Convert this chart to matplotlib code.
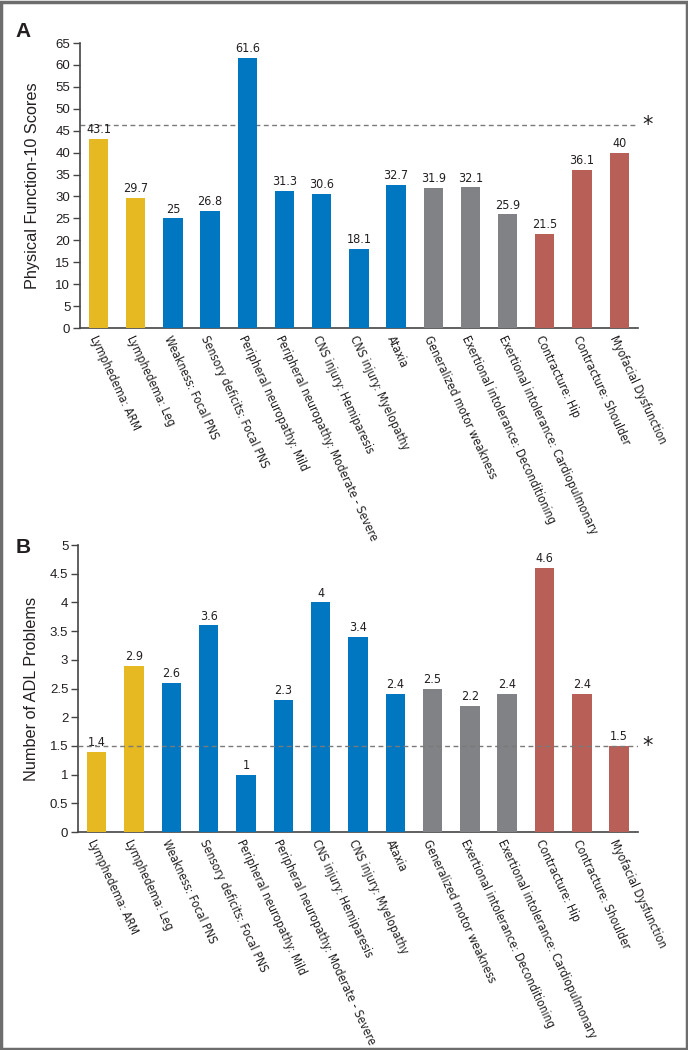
import matplotlib
matplotlib.use("Agg")
import matplotlib.pyplot as plt
from matplotlib.patches import Rectangle
from matplotlib import font_manager as fm

categories = [
    "Lymphedema: ARM", "Lymphedema: Leg", "Weakness: Focal PNS",
    "Sensory deficits: Focal PNS", "Peripheral neuropathy: Mild",
    "Peripheral neuropathy: Moderate - Severe", "CNS injury: Hemiparesis",
    "CNS injury: Myelopathy", "Ataxia", "Generalized motor weakness",
    "Exertional intolerance: Deconditioning", "Exertional intolerance: Cardiopulmonary",
    "Contracture: Hip", "Contracture: Shoulder", "Myofacial Dysfunction",
]
groups = ["lymph", "lymph", "neuro", "neuro", "neuro", "neuro", "neuro", "neuro", "neuro",
          "gen", "gen", "gen", "msk", "msk", "msk"]
pf10_scores = [43.1, 29.7, 25, 26.8, 61.6, 31.3, 30.6, 18.1, 32.7, 31.9, 32.1, 25.9, 21.5, 36.1, 40]
adl_problems = [1.4, 2.9, 2.6, 3.6, 1, 2.3, 4, 3.4, 2.4, 2.5, 2.2, 2.4, 4.6, 2.4, 1.5]
pf10_reference = 46.4
adl_reference = 1.5
pf10_ticks = list(range(0, 70, 5))
adl_ticks = [0, 0.5, 1, 1.5, 2, 2.5, 3, 3.5, 4, 4.5, 5]

group_colors = {"lymph": "#E6B822", "neuro": "#0077C0", "gen": "#818285", "msk": "#B85F57"}
colors = [group_colors[g] for g in groups]

# find a condensed / narrow font if one is installed
narrow_prop = None
for f in fm.fontManager.ttflist:
    nm = f.name.lower()
    fn = f.fname.lower()
    if ("narrow" in nm or "condensed" in nm or "narrow" in fn or "condensed" in fn) \
            and f.style == "normal" and "bold" not in fn and "oblique" not in fn and "italic" not in fn:
        narrow_prop = fm.FontProperties(fname=f.fname)
        break

plt.rcParams["font.family"] = ["Liberation Sans", "DejaVu Sans"]
if narrow_prop is not None:
    NARROW_KW = dict(fontproperties=narrow_prop)
    LABEL_SIZE = 8.6
    VALUE_SIZE = 9.0
else:
    NARROW_KW = dict(family=["Liberation Sans", "DejaVu Sans"])
    LABEL_SIZE = 8.0
    VALUE_SIZE = 8.5

fig = plt.figure(figsize=(6.88, 10.5), dpi=100)
fig.patches.append(Rectangle((0.002, 0.001), 0.996, 0.997, transform=fig.transFigure,
                             fill=False, edgecolor="#6d6d6d", linewidth=2.5))

def fmt(v):
    return ("%g" % v)

def narrow_text(t, size):
    t.set(**NARROW_KW)
    t.set_fontsize(size)

def panel(rect, values, ref, ticks, ylim, ylabel, letter, line_on_top, labelpad):
    ax = fig.add_axes(rect)
    x = list(range(len(values)))
    ax.bar(x, values, width=0.52, color=colors, zorder=3)
    ax.axhline(ref, color="#7a7a7a", linestyle=(0, (3.5, 2.5)), linewidth=1.0,
               zorder=4 if line_on_top else 2)
    for xi, v in zip(x, values):
        t = ax.annotate(fmt(v), (xi, v), xytext=(0, 2), textcoords="offset points",
                        ha="center", va="bottom", color="#231f20")
        narrow_text(t, VALUE_SIZE)
    ax.set_xlim(-0.5, len(values) - 0.5)
    ax.set_ylim(*ylim)
    ax.set_yticks(ticks)
    ax.set_yticklabels([fmt(t) for t in ticks], fontsize=9.5, color="#231f20")
    ax.set_xticks(x)
    labels = ax.set_xticklabels(categories, rotation=-65, ha="left", va="top",
                                rotation_mode="anchor", color="#231f20")
    for t in labels:
        narrow_text(t, LABEL_SIZE)
    ax.tick_params(axis="x", length=0, pad=4)
    ax.tick_params(axis="y", length=5, width=1, color="#444444", pad=2)
    for s in ("top", "right"):
        ax.spines[s].set_visible(False)
    for s in ("left", "bottom"):
        ax.spines[s].set_color("#444444")
        ax.spines[s].set_linewidth(1.2)
    ax.set_ylabel(ylabel, fontsize=11.7, color="#231f20", labelpad=labelpad)
    ax.text(1.008, ref, "*", transform=ax.get_yaxis_transform(), ha="left", va="center",
            fontsize=15, color="#231f20", family=["DejaVu Sans"])
    fig.text(0.022, rect[1] + rect[3] + (0.011 if letter == "A" else -0.002), letter,
             fontsize=15, fontweight="bold", color="#231f20", va="center")
    return ax

panel([0.1163, 0.6876, 0.8107, 0.2714], pf10_scores, pf10_reference, pf10_ticks, (0, 65),
      "Physical Function-10 Scores", "A", False, 11)
panel([0.1134, 0.2076, 0.8136, 0.2733], adl_problems, adl_reference, adl_ticks, (0, 5),
      "Number of ADL Problems", "B", True, 8)

fig.savefig("out.png", dpi=100)
